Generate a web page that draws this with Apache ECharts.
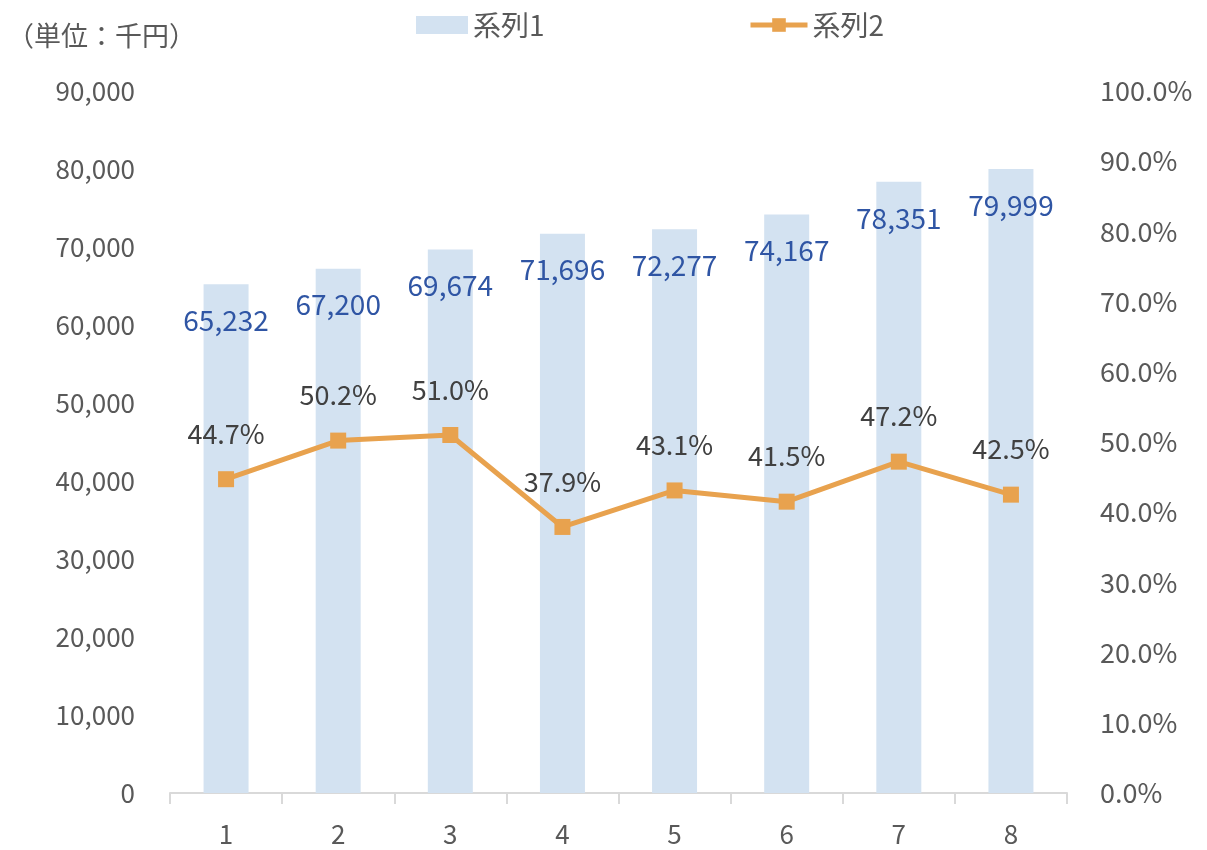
<!DOCTYPE html>
<html><head><meta charset="utf-8">
<script src="https://cdn.jsdelivr.net/npm/echarts@6/dist/echarts.min.js"></script>
<style>html,body{margin:0;padding:0;background:#fff}#c{width:1207px;height:850px}</style>
</head><body><div id="c"></div>
<script>
const categories = ['1','2','3','4','5','6','7','8'];
const series1 = [65232, 67200, 69674, 71696, 72277, 74167, 78351, 79999];
const series2 = [44.7, 50.2, 51.0, 37.9, 43.1, 41.5, 47.2, 42.5];
const leftTicks = {min: 0, max: 90000, interval: 10000};
const rightTicks = {min: 0, max: 100, interval: 10};

const FONT = '"Noto Sans CJK JP", "Noto Sans", sans-serif';
const GRAY = '#595959';
const chart = echarts.init(document.getElementById('c'), null, {renderer: 'canvas'});
const fmt = v => v.toString().replace(/\B(?=(\d{3})+(?!\d))/g, ',');
chart.setOption({
  animation: false,
  textStyle: {fontFamily: FONT},
  title: {text: '（単位：千円）', left: 7, top: 22, padding: 0, textStyle: {fontFamily: FONT, fontSize: 27, fontWeight: 'normal', color: GRAY}},
  legend: [
    {data: [{name: '系列1', icon: 'rect'}], left: 416, top: 11, padding: 0, itemWidth: 52, itemHeight: 18,
     textStyle: {fontFamily: FONT, fontSize: 28, color: GRAY}},
    {data: ['系列2'], left: 748, top: 11, padding: 0, itemWidth: 57, itemHeight: 17,
     lineStyle: {width: 5}, textStyle: {fontFamily: FONT, fontSize: 28, color: GRAY}}
  ],
  grid: {left: 170, right: 140, top: 91, bottom: 57, containLabel: false},
  xAxis: {
    type: 'category', data: categories,
    axisLine: {show: true, lineStyle: {color: '#d9d9d9', width: 2}},
    axisTick: {show: true, length: 11, alignWithLabel: false, lineStyle: {color: '#d9d9d9', width: 2}},
    axisLabel: {margin: 28, fontSize: 26, color: GRAY, fontFamily: FONT}
  },
  yAxis: [
    {type: 'value', min: leftTicks.min, max: leftTicks.max, interval: leftTicks.interval,
     splitLine: {show: false}, axisLine: {show: false}, axisTick: {show: false},
     axisLabel: {margin: 35, fontSize: 26, color: GRAY, fontFamily: FONT, formatter: fmt}},
    {type: 'value', min: rightTicks.min, max: rightTicks.max, interval: rightTicks.interval,
     splitLine: {show: false}, axisLine: {show: false}, axisTick: {show: false},
     axisLabel: {margin: 33, fontSize: 27, color: GRAY, fontFamily: FONT, formatter: v => v.toFixed(1) + '%'}}
  ],
  series: [
    {name: '系列1', type: 'bar', data: series1, barWidth: 45, yAxisIndex: 0,
     itemStyle: {color: '#d3e2f1'},
     label: {show: true, position: 'insideTop', distance: 22, fontSize: 28, color: '#2f55a4', fontFamily: FONT, formatter: p => fmt(p.value)}},
    {name: '系列2', type: 'line', data: series2, yAxisIndex: 1,
     symbol: 'rect', symbolSize: 16, showAllSymbol: true,
     lineStyle: {color: '#e8a24e', width: 5}, itemStyle: {color: '#e8a24e'},
     label: {show: true, position: 'top', distance: 24, fontSize: 27, color: '#404040', fontFamily: FONT, formatter: p => p.value.toFixed(1) + '%'}}
  ]
});
</script></body></html>
